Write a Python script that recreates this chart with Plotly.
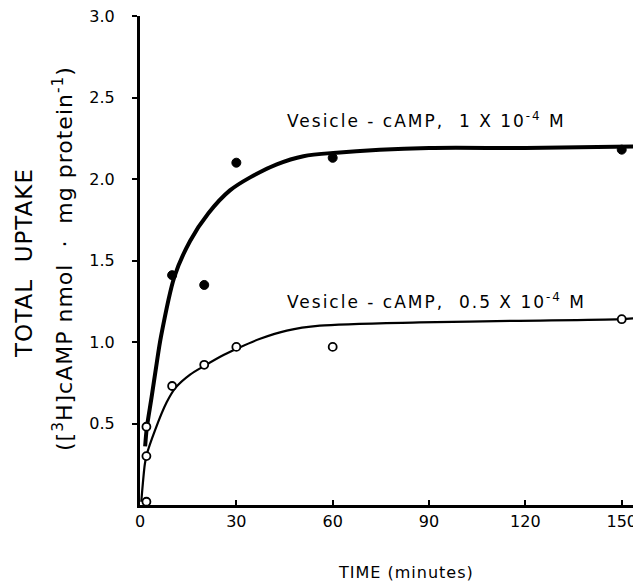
import plotly.graph_objects as go

# Fitted curves
curve_hi_t = [1.6, 2.1, 3.6, 5.2, 6.5, 10.7, 15.6, 21.3, 28.0, 34.3, 42.6, 50.9, 60.2, 90.0, 120.0, 156.0]
curve_hi_y = [0.36, 0.47, 0.66, 0.87, 1.03, 1.40, 1.62, 1.79, 1.93, 2.01, 2.09, 2.14, 2.16, 2.19, 2.19, 2.20]

curve_lo_t = [0.4, 1.5, 2.1, 4.7, 8.3, 11.1, 15.6, 20.6, 26.0, 30.8, 37.4, 45.7, 56.0, 87.0, 118.0, 149.5, 156.0]
curve_lo_y = [0.02, 0.25, 0.31, 0.46, 0.63, 0.72, 0.80, 0.86, 0.92, 0.965, 1.02, 1.07, 1.10, 1.12, 1.13, 1.14, 1.15]

# Measured points
filled_t = [10, 20, 30, 60, 150]
filled_y = [1.41, 1.35, 2.10, 2.13, 2.18]

open_t = [2, 2, 2, 10, 20, 30, 60, 150]
open_y = [0.02, 0.30, 0.48, 0.73, 0.86, 0.97, 0.97, 1.14]

x_ticks = [0, 30, 60, 90, 120, 150]
y_ticks = [0.5, 1.0, 1.5, 2.0, 2.5, 3.0]
y_ticklabels = ["0.5", "1.0", "1.5", "2.0", "2.5", "3.0"]

FONT = "DejaVu Sans"


def spaced(text, px):
    return '<span style="letter-spacing:%spx">%s</span>' % (px, text)


fig = go.Figure()
fig.add_trace(go.Scatter(x=curve_hi_t, y=curve_hi_y, mode="lines",
                         line=dict(color="black", width=4, shape="spline", smoothing=0.8),
                         hoverinfo="skip"))
fig.add_trace(go.Scatter(x=curve_lo_t, y=curve_lo_y, mode="lines",
                         line=dict(color="black", width=2.2, shape="spline", smoothing=0.8),
                         hoverinfo="skip"))
fig.add_trace(go.Scatter(x=filled_t, y=filled_y, mode="markers",
                         marker=dict(symbol="circle", size=9, color="black",
                                     line=dict(color="black", width=1))))
fig.add_trace(go.Scatter(x=open_t, y=open_y, mode="markers",
                         marker=dict(symbol="circle", size=8, color="white",
                                     line=dict(color="black", width=1.8))))

fig.add_annotation(x=45, y=2.36, xref="x", yref="y", xanchor="left", yanchor="middle",
                   text=spaced("Vesicle - cAMP,  1 X 10<sup>-4</sup> M", 2), showarrow=False,
                   font=dict(family=FONT, size=17, color="black"))
fig.add_annotation(x=45, y=1.25, xref="x", yref="y", xanchor="left", yanchor="middle",
                   text=spaced("Vesicle - cAMP,  0.5 X 10<sup>-4</sup> M", 2), showarrow=False,
                   font=dict(family=FONT, size=17, color="black"))

# axis titles
fig.add_annotation(x=0, y=0.495, xref="paper", yref="paper", xshift=-116,
                   xanchor="center", yanchor="middle", textangle=-90,
                   text=spaced("TOTAL  UPTAKE", 1), showarrow=False,
                   font=dict(family=FONT, size=23, color="black"))
fig.add_annotation(x=0, y=0.503, xref="paper", yref="paper", xshift=-77,
                   xanchor="center", yanchor="middle", textangle=-90,
                   text=spaced("([<sup>3</sup>H]cAMP nmol  ·  mg protein<sup>-1</sup>)", 1),
                   showarrow=False,
                   font=dict(family=FONT, size=22, color="black"))
fig.add_annotation(x=0.531, y=0, xref="paper", yref="paper", yshift=-67,
                   xanchor="center", yanchor="middle",
                   text=spaced("TIME (minutes)", 1), showarrow=False,
                   font=dict(family=FONT, size=16, color="black"))

# page body has an 8px default margin, so the figure is offset by (8, 8)
fig.update_layout(
    width=641, height=588,
    margin=dict(l=132, r=8, t=8, b=91),
    paper_bgcolor="white", plot_bgcolor="white",
    showlegend=False,
    font=dict(family=FONT, size=16, color="black"),
    xaxis=dict(range=[0, 156], tickmode="array", tickvals=x_ticks,
               ticks="inside", ticklen=5, tickwidth=1.5, tickcolor="black",
               showline=True, linecolor="black", linewidth=3,
               showgrid=False, zeroline=False, automargin=False,
               ticklabeloverflow="allow",
               tickfont=dict(family=FONT, size=16, color="black")),
    yaxis=dict(range=[0, 3.0], tickmode="array", tickvals=y_ticks, ticktext=y_ticklabels,
               ticks="outside", ticklen=5, tickwidth=1.5, tickcolor="black",
               showline=True, linecolor="black", linewidth=3,
               showgrid=False, zeroline=False, ticklabelstandoff=14, automargin=False,
               ticklabeloverflow="allow",
               tickfont=dict(family=FONT, size=16, color="black")),
)

fig.write_html("out.html")
